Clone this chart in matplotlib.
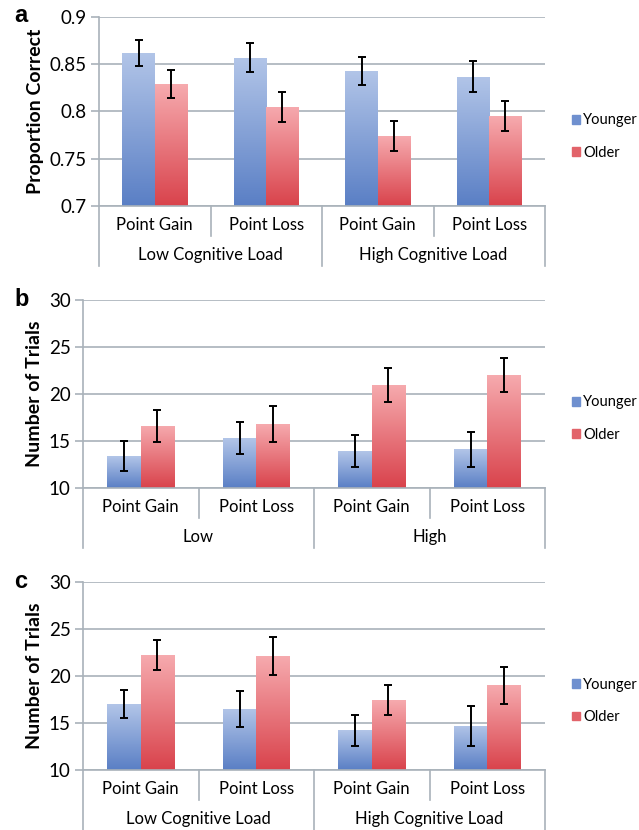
import numpy as np
import matplotlib
matplotlib.use('Agg')
from matplotlib import pyplot as plt
from matplotlib.patches import Patch
from matplotlib.lines import Line2D

plt.rcParams['font.family'] = ['Lato', 'DejaVu Sans']

# data
conditions = ['Point Gain', 'Point Loss', 'Point Gain', 'Point Loss']
groups = ['Younger', 'Older']

a_young = [0.862, 0.857, 0.843, 0.837]
a_young_err = [0.014, 0.015, 0.015, 0.016]
a_old = [0.829, 0.805, 0.774, 0.795]
a_old_err = [0.015, 0.016, 0.016, 0.016]
a_loads = ['Low Cognitive Load', 'High Cognitive Load']

b_young = [13.4, 15.3, 13.9, 14.1]
b_young_err = [1.6, 1.7, 1.7, 1.9]
b_old = [16.6, 16.8, 21.0, 22.0]
b_old_err = [1.7, 1.9, 1.8, 1.8]
b_loads = ['Low', 'High']

c_young = [17.0, 16.5, 14.25, 14.7]
c_young_err = [1.5, 1.95, 1.65, 2.1]
c_old = [22.2, 22.1, 17.4, 19.0]
c_old_err = [1.6, 2.0, 1.6, 2.0]
c_loads = ['Low Cognitive Load', 'High Cognitive Load']

W, H = 639, 830
young_cols = ('#b2c5e8', '#5a7fc5')
old_cols = ('#f6aaae', '#d9434c')
grid_col = '#a9b2ba'


def gradient_bars(ax, x, vals, cols, width):
    bars = ax.bar(x, vals, width, bottom=0, color=cols[1], zorder=2)
    top = np.array(matplotlib.colors.to_rgb(cols[0]))
    bot = np.array(matplotlib.colors.to_rgb(cols[1]))
    t = np.linspace(0, 1, 100)[:, None]
    img = (top * (1 - t) + bot * t)[:, None, :]
    y0 = ax.get_ylim()[0]
    for b in bars:
        x0 = b.get_x()
        im = ax.imshow(img, extent=[x0, x0 + b.get_width(), y0, b.get_height()],
                       aspect='auto', zorder=2.5, interpolation='bilinear')
        im.set_clip_path(b)
    return bars


def panel(rect, young, yerr, old, oerr, loads, ylim, yticks, ticklabels,
          ylabel, letter, legend_y):
    fig = plt.gcf()
    ax = fig.add_axes(rect)
    ax_w = rect[2] * W
    ax_h = rect[3] * H
    ax.set_ylim(ylim)
    x = np.arange(len(conditions))
    w = 0.29
    ax.set_xlim(-0.5, len(conditions) - 0.5)
    gradient_bars(ax, x - w / 2, young, young_cols, w)
    gradient_bars(ax, x + w / 2, old, old_cols, w)
    ax.errorbar(x - w / 2, young, yerr=yerr, fmt='none', ecolor='black',
                elinewidth=1.4, capsize=3, capthick=1.4, zorder=4)
    ax.errorbar(x + w / 2, old, yerr=oerr, fmt='none', ecolor='black',
                elinewidth=1.4, capsize=3, capthick=1.4, zorder=4)

    ax.set_yticks(yticks)
    ax.set_yticklabels(ticklabels, fontsize=13.5)
    ax.yaxis.grid(True, color=grid_col, linewidth=1.2, zorder=0)
    ax.set_axisbelow(True)
    ax.tick_params(axis='y', length=6, color=grid_col, width=1.2, pad=3)
    ax.set_xticks([])
    for s in ['top', 'right']:
        ax.spines[s].set_visible(False)
    ax.spines['left'].set_color(grid_col)
    ax.spines['bottom'].set_color(grid_col)
    ax.spines['left'].set_linewidth(1.2)
    ax.spines['bottom'].set_linewidth(1.2)
    ax.set_ylabel(ylabel, fontsize=14, fontweight='bold', labelpad=4)

    tr = ax.get_xaxis_transform()
    # first level labels and short dividers
    for i, c in enumerate(conditions):
        ax.text(i, -19 / ax_h, c, transform=tr, ha='center', va='center',
                fontsize=12)
    for xi in [0.5, 2.5]:
        ax.add_line(Line2D([xi, xi], [0, -30 / ax_h], transform=tr,
                           color=grid_col, lw=1.2, clip_on=False))
    # second level labels and long dividers
    for j, g in enumerate(loads):
        ax.text(2 * j + 0.5, -49 / ax_h, g, transform=tr, ha='center',
                va='center', fontsize=12)
    for xi in [-0.5, 1.5, 3.5]:
        ax.add_line(Line2D([xi, xi], [0, -60 / ax_h], transform=tr,
                           color=grid_col, lw=1.2, clip_on=False))

    fig.text(14 / W, rect[1] + rect[3] + 1 / H, letter, fontsize=17,
             fontweight='bold', family='Liberation Sans', va='center')

    handles = [Patch(color='#6f90cf'), Patch(color='#e2636a')]
    ax.legend(handles, groups, loc='center left', frameon=False,
              bbox_to_anchor=(1 + 27 / ax_w, legend_y), fontsize=10.5,
              handlelength=0.55, handleheight=0.55, handletextpad=0.2,
              labelspacing=1.25, borderaxespad=0, borderpad=0)
    return ax


fig = plt.figure(figsize=(W / 100, H / 100), dpi=100)

panel([99 / W, 1 - 206 / H, 446 / W, 189 / H], a_young, a_young_err,
      a_old, a_old_err, a_loads, (0.7, 0.9), [0.7, 0.75, 0.8, 0.85, 0.9],
      ['0.7', '0.75', '0.8', '0.85', '0.9'], 'Proportion Correct', 'a', 0.368)

panel([83 / W, 1 - 488 / H, 462 / W, 188 / H], b_young, b_young_err,
      b_old, b_old_err, b_loads, (10, 30), [10, 15, 20, 25, 30],
      ['10', '15', '20', '25', '30'], 'Number of Trials', 'b', 0.37)

panel([83 / W, 1 - 770 / H, 462 / W, 188 / H], c_young, c_young_err,
      c_old, c_old_err, c_loads, (10, 30), [10, 15, 20, 25, 30],
      ['10', '15', '20', '25', '30'], 'Number of Trials', 'c', 0.367)

plt.savefig('out.png', dpi=100)
